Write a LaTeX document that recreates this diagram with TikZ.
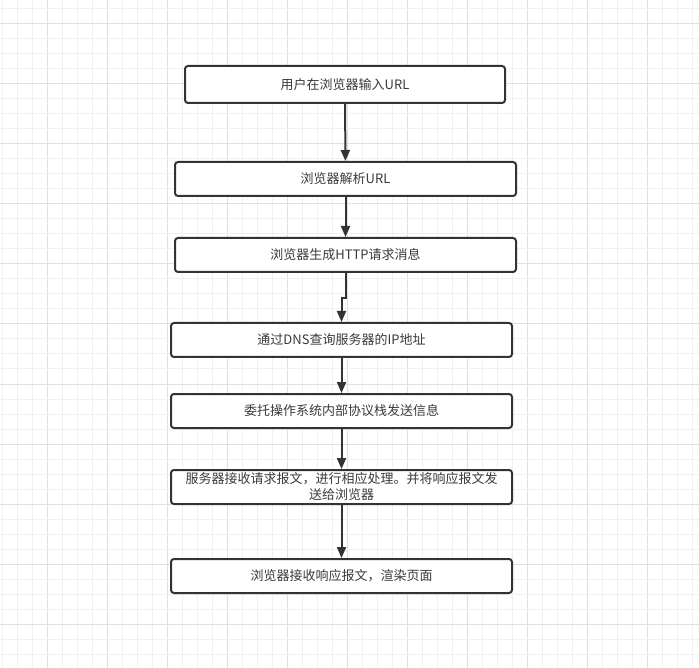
\documentclass[tikz,border=0pt]{standalone}
\usepackage{fontspec}
\setmainfont{Noto Sans CJK SC}
\usetikzlibrary{arrows.meta}
\definecolor{linec}{HTML}{333333}
\definecolor{textc}{HTML}{3A3A3A}
\tikzset
{
  grid0/.style={line width=1pt,draw={rgb,255:red,240;green,240;blue,240}},
  grid1/.style={line width=1pt,draw={rgb,255:red,224;green,224;blue,224}},
  box/.style={draw=linec,line width=2pt,fill=white,rounded corners=3pt,
    minimum width=341pt,minimum height=34pt,inner sep=0pt,text=textc,
    align=center,font=\fontsize{13pt}{16pt}\selectfont},
  arrowstyle/.style={draw=linec,line width=2pt,
    -{Triangle[length=11pt,width=9pt]}}%箭头样式
}

\begin{document}
\begin{tikzpicture}[x=1pt,y=-1pt]
\useasboundingbox (0,0) rectangle (699,668);
\fill[white] (0,0) rectangle (699,668);
\foreach\i in {0,...,46}
{
  \pgfmathtruncatemacro\k{mod(\i,4)==3}%每4格一条深线
  \draw[grid\k] (2+15*\i,0) -- (2+15*\i,668);
}
\foreach\i in {0,...,43}
{
  \pgfmathtruncatemacro\k{mod(\i,4)==1}
  \draw[grid\k] (0,9+15*\i) -- (699,9+15*\i);
}
\node[box,minimum width=320pt,minimum height=37pt] (b1) at (345,84.5) {用户在浏览器输入URL};
\node[box] (b2) at (345.5,179) {浏览器解析URL};
\node[box] (b3) at (345.5,255) {浏览器生成HTTP请求消息};
\node[box] (b4) at (341.5,340) {通过DNS查询服务器的IP地址};
\node[box] (b5) at (341.5,411) {委托操作系统内部协议栈发送信息};
\node[box] (b6) at (341.5,487) {服务器接收请求报文，进行相应处理。并将响应报文发\\送给浏览器};
\node[box] (b7) at (341.5,576) {浏览器接收响应报文，渲染页面};
\draw[arrowstyle] (b1) -- (b2);
\draw[arrowstyle] (b2) -- (b3);
\draw[arrowstyle] (b3.south) -- ++(0,25) -| (b4.north);%折一下
\draw[arrowstyle] (b4) -- (b5);
\draw[arrowstyle] (b5) -- (b6);
\draw[arrowstyle] (b6) -- (b7);
\end{tikzpicture}
\end{document}
